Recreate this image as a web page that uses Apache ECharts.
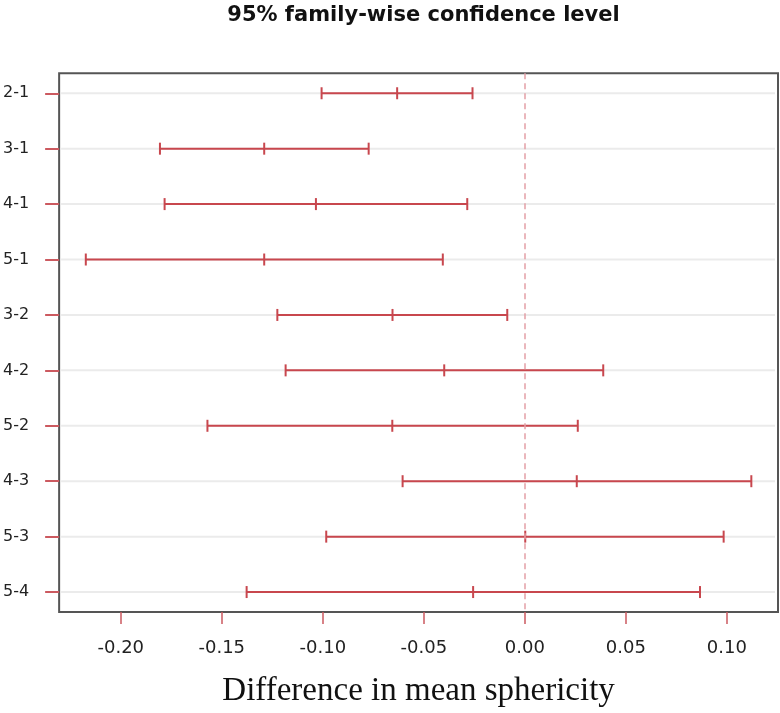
<!DOCTYPE html>
<html>
<head>
<meta charset="utf-8">
<script src="https://cdn.jsdelivr.net/npm/echarts@6/dist/echarts.min.js"></script>
<style>
html, body { margin: 0; padding: 0; background: #fff; }
#chart { width: 780px; height: 713px; }
</style>
</head>
<body>
<div id="chart"></div>
<script>
// Tukey HSD intervals
const comparisons = ['2-1', '3-1', '4-1', '5-1', '3-2', '4-2', '5-2', '4-3', '5-3', '5-4'];
const lwr  = [-0.1006, -0.1806, -0.1783, -0.2173, -0.1225, -0.1184, -0.1571, -0.0605, -0.0983, -0.1377];
const diff = [-0.0632, -0.1290, -0.1034, -0.1290, -0.0655, -0.0399, -0.0656,  0.0257,  0.0002, -0.0256];
const upr  = [-0.0259, -0.0773, -0.0285, -0.0406, -0.0087,  0.0388,  0.0262,  0.1121,  0.0984,  0.0867];
const xTicks = [-0.20, -0.15, -0.10, -0.05, 0.00, 0.05, 0.10];

const red = '#c8474e';
const rowIdx = comparisons.map((c, i) => i + 1);

var myChart = echarts.init(document.getElementById('chart'));

function renderGridLine(params, api) {
    var y = api.coord([0, api.value(0)])[1];
    var cs = params.coordSys;
    return {
        type: 'line',
        shape: { x1: cs.x + 2, y1: y, x2: cs.x + cs.width - 3, y2: y },
        style: { stroke: '#ebebeb', lineWidth: 2 }
    };
}

function renderInterval(params, api) {
    var row = api.value(0);
    var a = api.coord([api.value(1), row]);
    var m = api.coord([api.value(2), row]);
    var b = api.coord([api.value(3), row]);
    var h = 6;
    var style = { stroke: red, lineWidth: 2 };
    var cap = function (p) {
        return { type: 'line', shape: { x1: p[0], y1: p[1] - h, x2: p[0], y2: p[1] + h }, style: style };
    };
    return {
        type: 'group',
        children: [
            { type: 'line', shape: { x1: a[0], y1: a[1], x2: b[0], y2: b[1] }, style: style },
            cap(a), cap(m), cap(b)
        ]
    };
}

var option = {
    animation: false,
    title: {
        text: '95% family-wise confidence level',
        left: 418.5,
        textAlign: 'center',
        top: 0,
        textStyle: { fontFamily: 'DejaVu Sans', fontWeight: 'bold', fontSize: 21, color: '#111' }
    },
    grid: {
        left: 59,
        right: 2,
        top: 73.3,
        bottom: 100.7,
        show: true,
        borderColor: '#555',
        borderWidth: 2,
        backgroundColor: 'transparent'
    },
    xAxis: {
        type: 'value',
        min: -0.2305,
        max: 0.1253,
        name: 'Difference in mean sphericity',
        nameLocation: 'middle',
        nameGap: 63,
        nameTextStyle: { fontFamily: 'Liberation Serif', fontSize: 33, color: '#111' },
        axisLine: { show: false, onZero: false },
        splitLine: { show: false },
        axisTick: {
            show: true,
            length: 12,
            customValues: xTicks,
            lineStyle: { color: '#cc5a60', width: 1.5 }
        },
        axisLabel: {
            customValues: xTicks,
            margin: 27,
            fontFamily: 'DejaVu Sans',
            fontSize: 18,
            color: '#222',
            formatter: function (v) { return v.toFixed(2); }
        }
    },
    yAxis: {
        type: 'value',
        inverse: true,
        min: 0.64,
        max: 10.36,
        axisLine: { show: false, onZero: false },
        splitLine: { show: false },
        axisTick: {
            show: true,
            length: 14,
            customValues: rowIdx,
            lineStyle: { color: '#cc5a60', width: 2 }
        },
        axisLabel: {
            customValues: rowIdx,
            margin: 30,
            fontFamily: 'DejaVu Sans',
            fontSize: 16,
            color: '#222',
            formatter: function (v) { return comparisons[Math.round(v) - 1]; }
        }
    },
    series: [
        {
            type: 'custom',
            name: 'grid',
            silent: true,
            z: 1,
            renderItem: renderGridLine,
            encode: { y: 0, x: 1 },
            data: rowIdx.map(function (r) { return [r, 0]; })
        },
        {
            type: 'custom',
            name: 'intervals',
            z: 3,
            renderItem: renderInterval,
            encode: { y: 0, x: [1, 2, 3] },
            data: comparisons.map(function (c, i) { return [i + 1, lwr[i], diff[i], upr[i]]; }),
            markLine: {
                silent: true,
                symbol: ['none', 'none'],
                label: { show: false },
                lineStyle: { color: '#e3a0a6', type: [6, 4], width: 1.5 },
                data: [{ xAxis: 0 }]
            }
        }
    ]
};

myChart.setOption(option);
</script>
</body>
</html>
